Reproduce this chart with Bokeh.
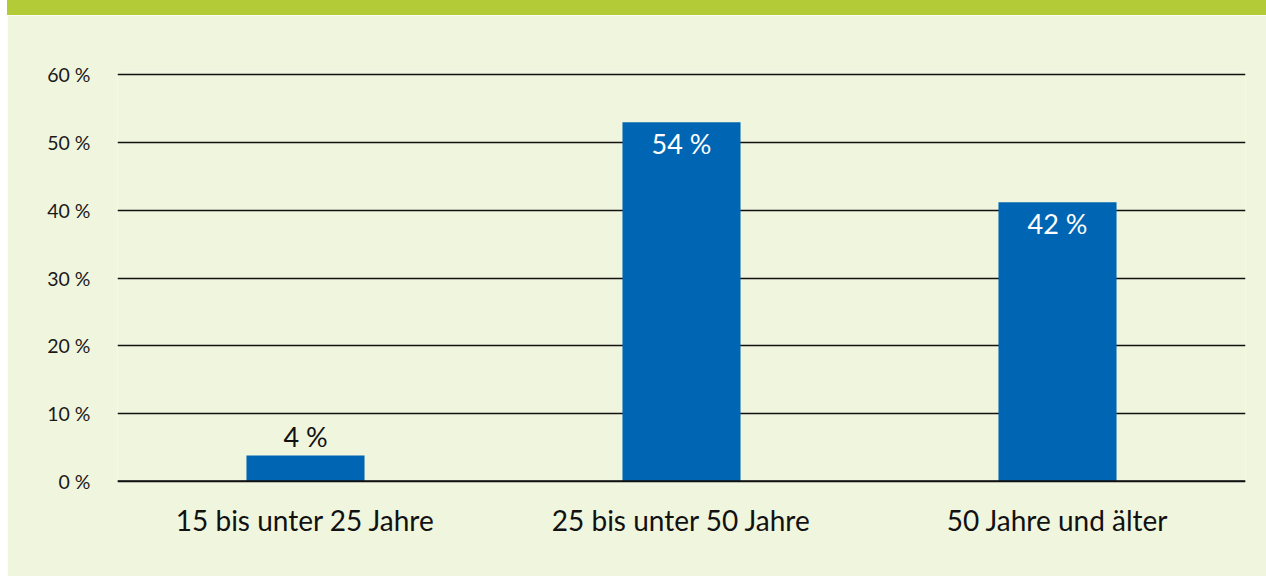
from bokeh.plotting import figure
from bokeh.models import ColumnDataSource, FactorRange, Range1d, FixedTicker, Span, Div
from bokeh.layouts import column
from bokeh.core.properties import value
from bokeh.embed import file_html
from bokeh.resources import INLINE

categories = ["15 bis unter 25 Jahre", "25 bis unter 50 Jahre", "50 Jahre und älter"]
values = [3.8, 53.0, 41.2]
value_labels = ["4 %", "54 %", "42 %"]
label_inside = [False, True, True]
tick_values = [0, 10, 20, 30, 40, 50, 60]
tick_labels = ["0 %", "10 %", "20 %", "30 %", "40 %", "50 %", "60 %"]

BG = "#f0f5de"
GREEN = "#b2cb37"
BLUE = "#0066b3"
FONT = "Lato"

px_per_unit = 407 / 60.0
label_y = [v - 21 / px_per_unit if inside else v + 19 / px_per_unit
           for v, inside in zip(values, label_inside)]
label_color = ["white" if inside else "#111111" for inside in label_inside]

src = ColumnDataSource(dict(cat=categories, val=values, ly=label_y,
                            lt=value_labels, lc=label_color))

W = 1259
pad = 0.5
p = figure(x_range=FactorRange(*categories, range_padding=0),
           y_range=Range1d(-pad, 60 + pad),
           width=W, height=561, output_backend="svg", toolbar_location=None,
           min_border_left=110, min_border_right=21,
           min_border_top=int(round(59 - pad * px_per_unit)),
           min_border_bottom=int(round(95 - pad * px_per_unit)))
p.background_fill_color = BG
p.border_fill_color = BG
p.outline_line_color = None

p.vbar(x="cat", top="val", bottom=0, width=0.314, source=src,
       fill_color=BLUE, line_color=None)
p.text(x="cat", y="ly", text="lt", text_color="lc", source=src,
       text_align="center", text_baseline="middle",
       text_font=value(FONT), text_font_size="27px")

p.add_layout(Span(location=0, dimension="width", line_color="#111111",
                  line_width=1.5, level="overlay"))

p.xgrid.grid_line_color = None
p.ygrid.grid_line_color = "#111111"
p.ygrid.grid_line_width = 1.5
p.yaxis.ticker = FixedTicker(ticks=tick_values)
p.yaxis.major_label_overrides = {t: l for t, l in zip(tick_values, tick_labels)}
p.yaxis.axis_line_color = None
p.yaxis.major_tick_line_color = None
p.yaxis.minor_tick_line_color = None
p.yaxis.major_label_standoff = 21
p.yaxis.major_label_text_font = FONT
p.yaxis.major_label_text_font_size = "19.5px"
p.yaxis.major_label_text_color = "#1a1a1a"

p.xaxis.axis_line_color = None
p.xaxis.major_tick_line_color = None
p.xaxis.minor_tick_line_color = None
p.xaxis.major_label_standoff = 12
p.xaxis.major_label_text_font = FONT
p.xaxis.major_label_text_font_size = "28px"
p.xaxis.major_label_text_color = "#111111"

top = Div(text="", width=W, height=15, margin=0,
          styles={"background-color": GREEN})
layout = column(top, p, spacing=0, margin=(0, 0, 0, 7))

open("out.html", "w").write(file_html(layout, INLINE))
